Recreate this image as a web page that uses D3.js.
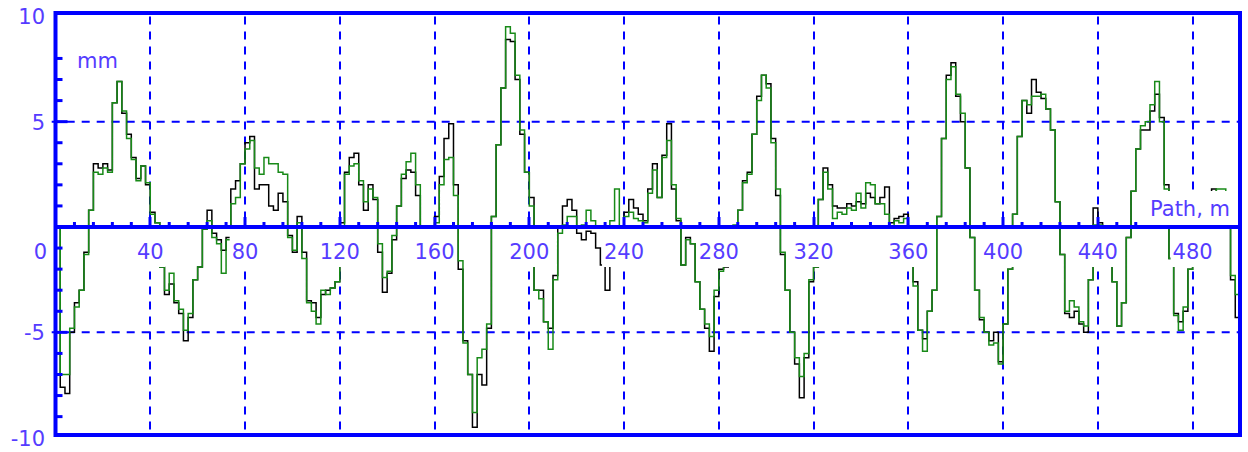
<!DOCTYPE html>
<html>
<head>
<meta charset="utf-8">
<script src="https://cdn.jsdelivr.net/npm/d3@7"></script>
<style>
  html, body { margin: 0; padding: 0; background: #fff; }
  svg { display: block; font-family: "DejaVu Sans", Verdana, sans-serif; }
</style>
</head>
<body>
<svg id="chart" width="1248" height="452"></svg>
<script>
// Track profile deviation (mm) along the path (m), sampled every 2 m.
const pathStep = 2;

// Series 1 (black) – measured deviation, mm
const seriesBlack = [
  0, -7.6, -7.9, -5.0, -3.6, -3.0, -1.2, 0.8, 3.0, 2.8,
  3.0, 2.7, 5.9, 6.9, 5.4, 4.4, 3.3, 2.3, 2.9, 2.0,
  0.7, 0.2, -1.9, -3.2, -2.7, -3.6, -4.1, -5.4, -4.3, -2.5,
  -1.9, -0.1, 0.8, -0.3, -0.6, -1.1, -0.5, 1.8, 2.2, 3.0,
  4.0, 4.3, 1.8, 2.0, 2.0, 1.0, 0.8, 1.6, 1.2, -0.4,
  -1.2, 0.5, -1.2, -3.5, -3.6, -4.3, -3.2, -3.0, -2.9, -2.6,
  0.2, 2.6, 3.3, 3.5, 2.0, 0.8, 2.0, 1.3, -1.2, -3.1,
  -2.2, -0.6, 1.0, 2.3, 2.7, 2.6, 1.5, -0.1, -0.1, 0.0,
  0.5, 2.4, 4.2, 4.9, 2.0, -2.0, -5.4, -7.0, -9.5, -7.0,
  -7.5, -4.8, 0.5, 3.9, 6.6, 8.9, 8.8, 7.0, 4.4, 2.6,
  1.4, -3.0, -3.0, -4.5, -4.8, -2.3, 0.0, 1.0, 1.3, 0.8,
  -0.3, -0.6, -0.2, -0.3, -1.0, -1.8, -3.0, -1.8, 0.0, -0.1,
  0.7, 1.3, 0.9, 0.6, 0.3, 1.8, 3.0, 1.4, 3.4, 4.9,
  1.8, 0.3, -1.8, -0.5, -0.8, -2.6, -3.9, -4.8, -5.9, -3.3,
  -2.0, -1.9, -0.1, 0.0, 0.8, 2.2, 2.6, 4.4, 6.2, 7.2,
  6.8, 4.2, 1.5, -1.3, -3.0, -5.0, -6.5, -8.1, -6.2, -2.6,
  -1.9, 1.3, 2.8, 2.0, 1.0, 0.9, 0.9, 1.1, 1.0, 1.2,
  1.1, 1.6, 1.4, 1.1, 1.4, 1.9, 0.2, 0.4, 0.5, 0.6,
  0.0, -2.6, -4.9, -5.3, -4.0, -3.0, 0.5, 4.2, 7.2, 7.8,
  6.2, 5.0, 2.8, -0.5, -3.0, -4.4, -5.0, -5.4, -5.0, -6.4,
  -4.6, -2.0, 0.6, 4.3, 6.0, 5.4, 7.0, 6.4, 6.1, 5.6,
  4.6, 1.2, -1.3, -4.1, -4.3, -4.0, -4.6, -5.0, -2.5, 0.9,
  0.2, -0.5, -1.8, -2.6, -4.7, -3.6, -0.5, 1.7, 3.7, 4.6,
  4.6, 5.5, 6.3, 5.2, 2.0, -1.5, -4.1, -4.5, -4.0, -2.0,
  -0.5, 0.0, 0.1, 1.0, 1.8, 1.6, 1.5, 0.2, -2.5, -4.3,
  -4.4
];

// Series 2 (green) – measured deviation, mm
const seriesGreen = [
  0, -7.0, -7.0, -4.8, -3.8, -3.0, -1.3, 0.8, 2.6, 2.5,
  2.8, 2.6, 5.9, 6.9, 5.5, 4.2, 3.2, 2.2, 2.9, 2.1,
  0.6, 0.2, -1.9, -3.0, -2.2, -3.5, -3.9, -4.9, -4.1, -2.5,
  -1.9, -0.1, 0.3, -0.5, -0.8, -2.2, -0.6, 1.1, 1.4, 3.0,
  3.7, 4.1, 2.8, 2.5, 3.3, 3.0, 3.0, 2.6, 2.5, -0.5,
  -1.1, 0.2, -1.5, -3.6, -4.0, -4.6, -3.0, -3.2, -2.9, -2.6,
  0.0, 2.5, 2.9, 3.0, 2.2, 1.2, 1.8, 1.4, -0.8, -2.4,
  -2.1, -0.4, 1.0, 2.5, 3.1, 3.5, 2.0, -0.1, -0.1, -0.1,
  0.2, 2.0, 3.2, 3.3, 1.5, -1.6, -5.5, -7.0, -8.8, -6.2,
  -5.8, -4.6, 0.5, 3.9, 6.6, 9.5, 9.2, 7.2, 4.6, 2.6,
  1.0, -3.0, -3.4, -4.5, -5.8, -2.5, -0.3, 0.1, 0.5, 0.5,
  0.0, 0.1, 0.8, 0.3, 0.0, 0.0, 0.0, 0.3, 1.8, -0.1,
  0.5, 0.7, 0.4, 0.3, 0.2, 1.6, 2.7, 1.4, 3.3, 4.1,
  2.0, 0.4, -1.8, -0.6, -0.8, -2.6, -3.9, -4.6, -5.2, -3.0,
  -2.1, -1.8, -0.1, 0.1, 0.8, 2.1, 2.5, 4.4, 6.0, 7.2,
  6.6, 4.0, 1.8, -1.2, -3.0, -5.0, -6.2, -7.1, -6.0, -2.5,
  -1.9, 1.3, 2.6, 1.8, 0.4, 0.7, 0.6, 0.9, 0.8, 1.6,
  0.9, 2.1, 2.0, 1.1, 1.1, 0.6, 0.0, 0.3, 0.2, 0.4,
  0.0, -2.8, -4.9, -5.9, -4.0, -3.0, 0.5, 4.2, 7.0, 7.6,
  6.3, 5.4, 2.8, -0.5, -3.0, -4.3, -5.0, -5.6, -5.5, -6.5,
  -4.6, -2.0, 0.6, 4.3, 6.0, 5.8, 6.2, 6.2, 6.3, 5.6,
  4.6, 1.2, -1.3, -4.0, -3.5, -3.8, -4.5, -4.7, -2.5, 0.1,
  0.1, -0.5, -1.8, -2.6, -4.7, -3.6, -0.5, 1.7, 3.7, 4.8,
  5.0, 5.8, 6.9, 5.0, 1.8, -1.5, -4.2, -4.9, -3.8, -2.0,
  -0.5, 0.1, 0.2, 0.5, 1.6, 1.8, 1.8, 0.2, -2.3, -3.2,
  -3.7
];

const xTicks = [40, 80, 120, 160, 200, 240, 280, 320, 360, 400, 440, 480];
const yTicks = [10, 5, -5, -10];
const yGrid = [5, -5];
const yMinorTicks = [-9, -8, -7, -6, -4, -3, -2, -1, 1, 2, 3, 4, 6, 7, 8];
const pathMinorTicks = d3.range(8, 500, 8).filter(v => v % 40 !== 0);

const blue = "#0000ff";
const textColor = "#553cff";
const svg = d3.select("#chart");

const x = d3.scaleLinear().domain([0, 500]).range([55.5, 1240]);
const y = d3.scaleLinear().domain([-10, 10]).range([437.7, 16.3]);
const y0 = y(0);

const plot = { left: 55.5, top: 13, right: 1240, bottom: 435 };

// Dashed grid
const grid = svg.append("g")
  .attr("stroke", blue).attr("stroke-width", 2).attr("stroke-dasharray", "8,7");
grid.selectAll("line.v").data(xTicks).join("line")
  .attr("class", "v")
  .attr("x1", d => Math.round(x(d))).attr("x2", d => Math.round(x(d)))
  .attr("y1", 16.5).attr("y2", plot.bottom);
grid.selectAll("line.h").data(yGrid).join("line")
  .attr("class", "h")
  .attr("x1", 51.7).attr("x2", plot.right)
  .attr("y1", d => y(d)).attr("y2", d => y(d));

// Profile lines
const toPoints = vals => vals.map((v, i) => [i * pathStep, v]);
const line = d3.line()
  .x(d => x(d[0]))
  .y(d => y(d[1]))
  .curve(d3.curveStepAfter);

svg.append("path")
  .datum(toPoints(seriesBlack))
  .attr("fill", "none").attr("stroke", "#000").attr("stroke-width", 1.5)
  .attr("d", line);
svg.append("path")
  .datum(toPoints(seriesGreen))
  .attr("fill", "none").attr("stroke", "#188a18").attr("stroke-width", 1.5)
  .attr("d", line);

// Zero axis with path ticks
svg.append("line")
  .attr("x1", plot.left).attr("x2", plot.right)
  .attr("y1", y0).attr("y2", y0)
  .attr("stroke", blue).attr("stroke-width", 4);
svg.append("g").selectAll("line").data(pathMinorTicks).join("line")
  .attr("x1", d => x(d)).attr("x2", d => x(d))
  .attr("y1", y0).attr("y2", y0 - 5)
  .attr("stroke", blue).attr("stroke-width", 3);
svg.append("g").selectAll("line").data(xTicks).join("line")
  .attr("x1", d => Math.round(x(d))).attr("x2", d => Math.round(x(d)))
  .attr("y1", y0).attr("y2", y0 - 10)
  .attr("stroke", blue).attr("stroke-width", 3);

// Frame and left-axis ticks
svg.append("rect")
  .attr("x", plot.left).attr("y", plot.top)
  .attr("width", plot.right - plot.left).attr("height", plot.bottom - plot.top)
  .attr("fill", "none").attr("stroke", blue).attr("stroke-width", 4);
svg.append("g").selectAll("line").data(yMinorTicks).join("line")
  .attr("x1", plot.left).attr("x2", plot.left + 7)
  .attr("y1", d => y(d)).attr("y2", d => y(d))
  .attr("stroke", blue).attr("stroke-width", 3);
svg.append("g").selectAll("line").data(yGrid).join("line")
  .attr("x1", plot.left).attr("x2", plot.left + 12)
  .attr("y1", d => y(d)).attr("y2", d => y(d))
  .attr("stroke", blue).attr("stroke-width", 3);

// Labels on white boxes
const fontSize = 21;
function boxedLabel(txt, px, baseline, anchor, padX, boxTop, boxBottom) {
  const g = svg.append("g");
  const bg = g.append("rect").attr("fill", "#fff");
  const t = g.append("text")
    .attr("x", px).attr("y", baseline)
    .attr("text-anchor", anchor)
    .attr("font-size", fontSize)
    .attr("fill", textColor)
    .text(txt);
  const bb = t.node().getBBox();
  bg.attr("x", bb.x - padX).attr("width", bb.width + 2 * padX)
    .attr("y", boxTop).attr("height", boxBottom - boxTop);
}

xTicks.forEach(d => boxedLabel(String(d), x(d), 259, "middle", 2, y0 + 2, 267));

svg.append("text")
  .attr("x", 47).attr("y", 259).attr("text-anchor", "end")
  .attr("font-size", fontSize).attr("fill", textColor).text("0");

svg.append("g").selectAll("text").data(yTicks).join("text")
  .attr("x", 45).attr("y", d => y(d) + 8)
  .attr("text-anchor", "end")
  .attr("font-size", fontSize).attr("fill", textColor)
  .text(d => String(d));

boxedLabel("mm", 77, 68, "start", 2, 46, 72);
boxedLabel("Path, m", 1230, 216, "end", 2, 191, y0 - 2);
</script>
</body>
</html>
